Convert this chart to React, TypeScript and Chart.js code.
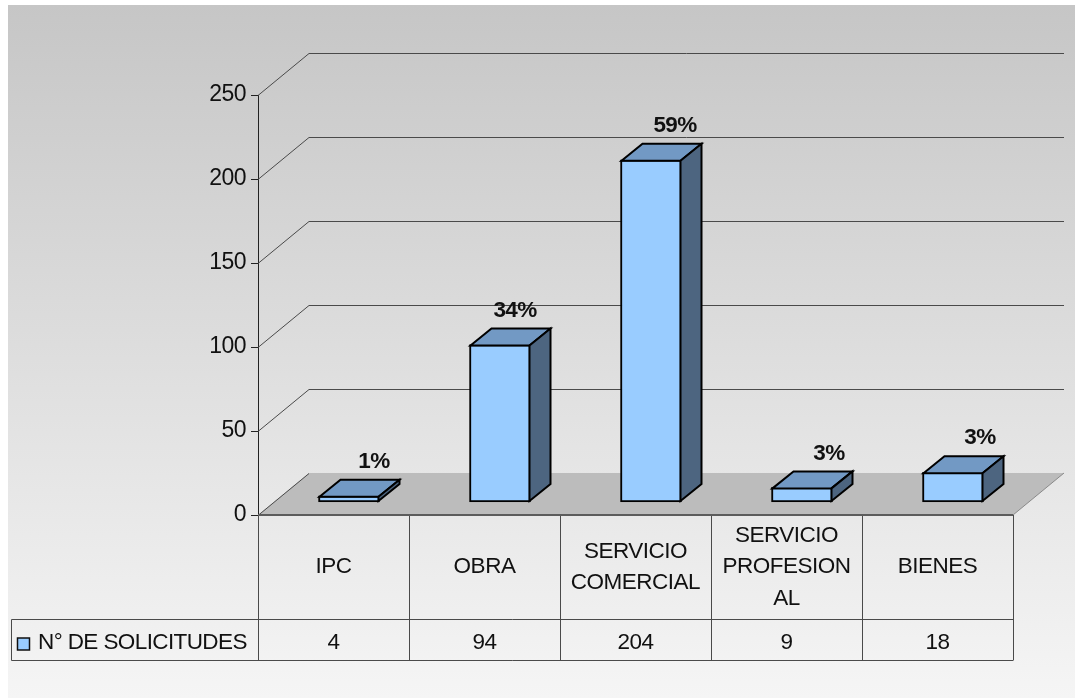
import React, { useEffect, useRef } from "react";
import { Chart, registerables } from "chart.js";

Chart.register(...registerables);

const categories: (string | string[])[] = [
  "IPC",
  "OBRA",
  ["SERVICIO", "COMERCIAL"],
  ["SERVICIO", "PROFESION", "AL"],
  "BIENES",
];
const seriesName = "N° DE SOLICITUDES";
const solicitudes = [4, 94, 204, 9, 18];
const percentLabels = ["1%", "34%", "59%", "3%", "3%"];
const yTicks = { min: 0, max: 250, step: 50 };

const FONT = '"Liberation Sans", Arial, sans-serif';
const WALL = { dx: 51, dy: -42 };
const BAR_SHIFT = { dx: 15.5, dy: -12.5 };
const BAR_DEPTH = { dx: 21, dy: -17 };
const LABEL_NUDGE = [25, 15, 24, 27, 27];
const TABLE = { left: 11, rowTop: 619, rowBottom: 660 };
const FACE = "#99ccff";
const TOP = "#7299c4";
const SIDE = "#4d6580";
const LINE = "#4a4a4a";
const TRACKING = "-0.5px";

const poly = (ctx: CanvasRenderingContext2D, pts: number[][]) => {
  ctx.beginPath();
  pts.forEach(([x, y], i) => (i ? ctx.lineTo(x, y) : ctx.moveTo(x, y)));
  ctx.closePath();
};

const scenePlugin = {
  id: "scene3d",
  beforeDraw(chart: any) {
    const { ctx, width, height } = chart;
    const g = ctx.createLinearGradient(0, 5, 0, height);
    g.addColorStop(0, "#c6c6c6");
    g.addColorStop(1, "#f5f5f5");
    ctx.save();
    ctx.fillStyle = "#ffffff";
    ctx.fillRect(0, 0, width, height);
    ctx.fillStyle = g;
    ctx.fillRect(8, 5, width - 8, height - 5);
    ctx.restore();
    (ctx as any).letterSpacing = TRACKING;
  },
  beforeDatasetsDraw(chart: any) {
    const { ctx, chartArea: a, scales } = chart;
    const y0 = scales.y.getPixelForValue(0);
    ctx.save();
    // floor
    poly(ctx, [
      [a.left, y0],
      [a.left + WALL.dx, y0 + WALL.dy],
      [a.right + WALL.dx, y0 + WALL.dy],
      [a.right, y0],
    ]);
    ctx.fillStyle = "#bcbcbc";
    ctx.fill();
    // wall grid lines and the diagonals that meet them
    ctx.strokeStyle = LINE;
    ctx.lineWidth = 1;
    scales.y.ticks.forEach((t: any) => {
      const py = Math.round(scales.y.getPixelForValue(t.value)) + 0.5;
      ctx.beginPath();
      ctx.moveTo(a.left, py);
      ctx.lineTo(a.left + WALL.dx, py + WALL.dy);
      if (t.value !== 0) ctx.lineTo(a.right + WALL.dx, py + WALL.dy);
      ctx.stroke();
    });
    ctx.beginPath();
    ctx.moveTo(a.right, y0);
    ctx.lineTo(a.right + WALL.dx, y0 + WALL.dy);
    ctx.strokeStyle = "#8a8a8a";
    ctx.stroke();

    // data table
    ctx.strokeStyle = LINE;
    ctx.lineWidth = 1;
    const line = (x1: number, y1: number, x2: number, y2: number) => {
      ctx.beginPath();
      ctx.moveTo(x1, y1);
      ctx.lineTo(x2, y2);
      ctx.stroke();
    };
    const n = categories.length;
    const cw = (a.right - a.left) / n;
    for (let i = 0; i <= n; i++) {
      const x = Math.round(a.left + i * cw) + 0.5;
      line(x, y0, x, TABLE.rowBottom + 0.5);
    }
    line(TABLE.left + 0.5, TABLE.rowTop + 0.5, a.right, TABLE.rowTop + 0.5);
    line(TABLE.left + 0.5, TABLE.rowBottom + 0.5, a.right, TABLE.rowBottom + 0.5);
    line(TABLE.left + 0.5, TABLE.rowTop + 0.5, TABLE.left + 0.5, TABLE.rowBottom + 0.5);
    ctx.lineWidth = 2;
    ctx.strokeStyle = "#5c5c5c";
    line(a.left, y0, a.right, y0);

    // table values and series key
    const rowMid = (TABLE.rowTop + TABLE.rowBottom) / 2 + 3;
    ctx.fillStyle = "#111";
    ctx.font = `22.5px ${FONT}`;
    ctx.textBaseline = "middle";
    ctx.textAlign = "center";
    solicitudes.forEach((v, i) => {
      ctx.fillText(String(v), scales.x.getPixelForValue(i), rowMid);
    });
    ctx.textAlign = "left";
    ctx.letterSpacing = "-0.6px";
    ctx.fillText(seriesName, 38, rowMid);
    ctx.letterSpacing = TRACKING;
    ctx.fillStyle = FACE;
    ctx.fillRect(17.5, 638, 12, 12);
    ctx.strokeStyle = "#111";
    ctx.lineWidth = 1.5;
    ctx.strokeRect(17.5, 638, 12, 12);
    ctx.restore();

    // shift the bars back onto the floor
    ctx.save();
    ctx.translate(BAR_SHIFT.dx, BAR_SHIFT.dy);
  },
  afterDatasetsDraw(chart: any) {
    const { ctx } = chart;
    ctx.restore();
    ctx.save();
    const meta = chart.getDatasetMeta(0);
    ctx.lineJoin = "miter";
    ctx.lineWidth = 2;
    ctx.strokeStyle = "#000";
    meta.data.forEach((bar: any, i: number) => {
      const l = bar.x - bar.width / 2 + BAR_SHIFT.dx + 1;
      const r = bar.x + bar.width / 2 + BAR_SHIFT.dx - 1;
      const t = bar.y + BAR_SHIFT.dy + 1;
      const b = bar.base + BAR_SHIFT.dy - 1;
      const d = BAR_DEPTH;
      poly(ctx, [[l, t], [l + d.dx, t + d.dy], [r + d.dx, t + d.dy], [r, t]]);
      ctx.fillStyle = TOP;
      ctx.fill();
      ctx.stroke();
      poly(ctx, [[r, t], [r + d.dx, t + d.dy], [r + d.dx, b + d.dy], [r, b]]);
      ctx.fillStyle = SIDE;
      ctx.fill();
      ctx.stroke();
      ctx.fillStyle = "#111";
      ctx.font = `bold 22.5px ${FONT}`;
      ctx.letterSpacing = "-0.6px";
      ctx.textAlign = "center";
      ctx.textBaseline = "middle";
      ctx.fillText(percentLabels[i], (l + r) / 2 + LABEL_NUDGE[i], t - 35);
    });
    ctx.restore();
  },
};

export default function App() {
  const ref = useRef<HTMLCanvasElement>(null);
  useEffect(() => {
    const chart = new Chart(ref.current!, {
      type: "bar",
      data: {
        labels: categories as any,
        datasets: [
          {
            label: seriesName,
            data: solicitudes,
            backgroundColor: FACE,
            borderColor: "#000",
            borderWidth: 2,
            borderSkipped: false,
            barThickness: 61,
          },
        ],
      },
      plugins: [scenePlugin as any],
      options: {
        animation: false,
        responsive: false,
        layout: { padding: { top: 95, right: 62, bottom: 38, left: 0 } },
        plugins: { legend: { display: false }, tooltip: { enabled: false } },
        scales: {
          x: {
            afterFit: (s: any) => {
              s.height = 145;
            },
            grid: { display: false },
            border: { display: false },
            ticks: {
              autoSkip: false,
              maxRotation: 0,
              minRotation: 0,
              padding: 13,
              crossAlign: "center",
              color: "#111",
              font: { family: FONT, size: 22.5, lineHeight: 1.39 },
            },
          },
          y: {
            min: yTicks.min,
            max: yTicks.max,
            afterFit: (s: any) => {
              s.width = 258;
            },
            border: { display: true, color: "#222", width: 1 },
            grid: { drawOnChartArea: false, drawTicks: true, tickLength: 7, color: "#222" },
            ticks: {
              stepSize: yTicks.step,
              padding: 5,
              color: "#111",
              font: { family: FONT, size: 23 },
            },
          },
        },
      },
    });
    return () => chart.destroy();
  }, []);
  return (
    <div style={{ position: "absolute", left: 0, top: 0 }}>
      <canvas ref={ref} width={1075} height={698} style={{ display: "block" }} />
    </div>
  );
}
